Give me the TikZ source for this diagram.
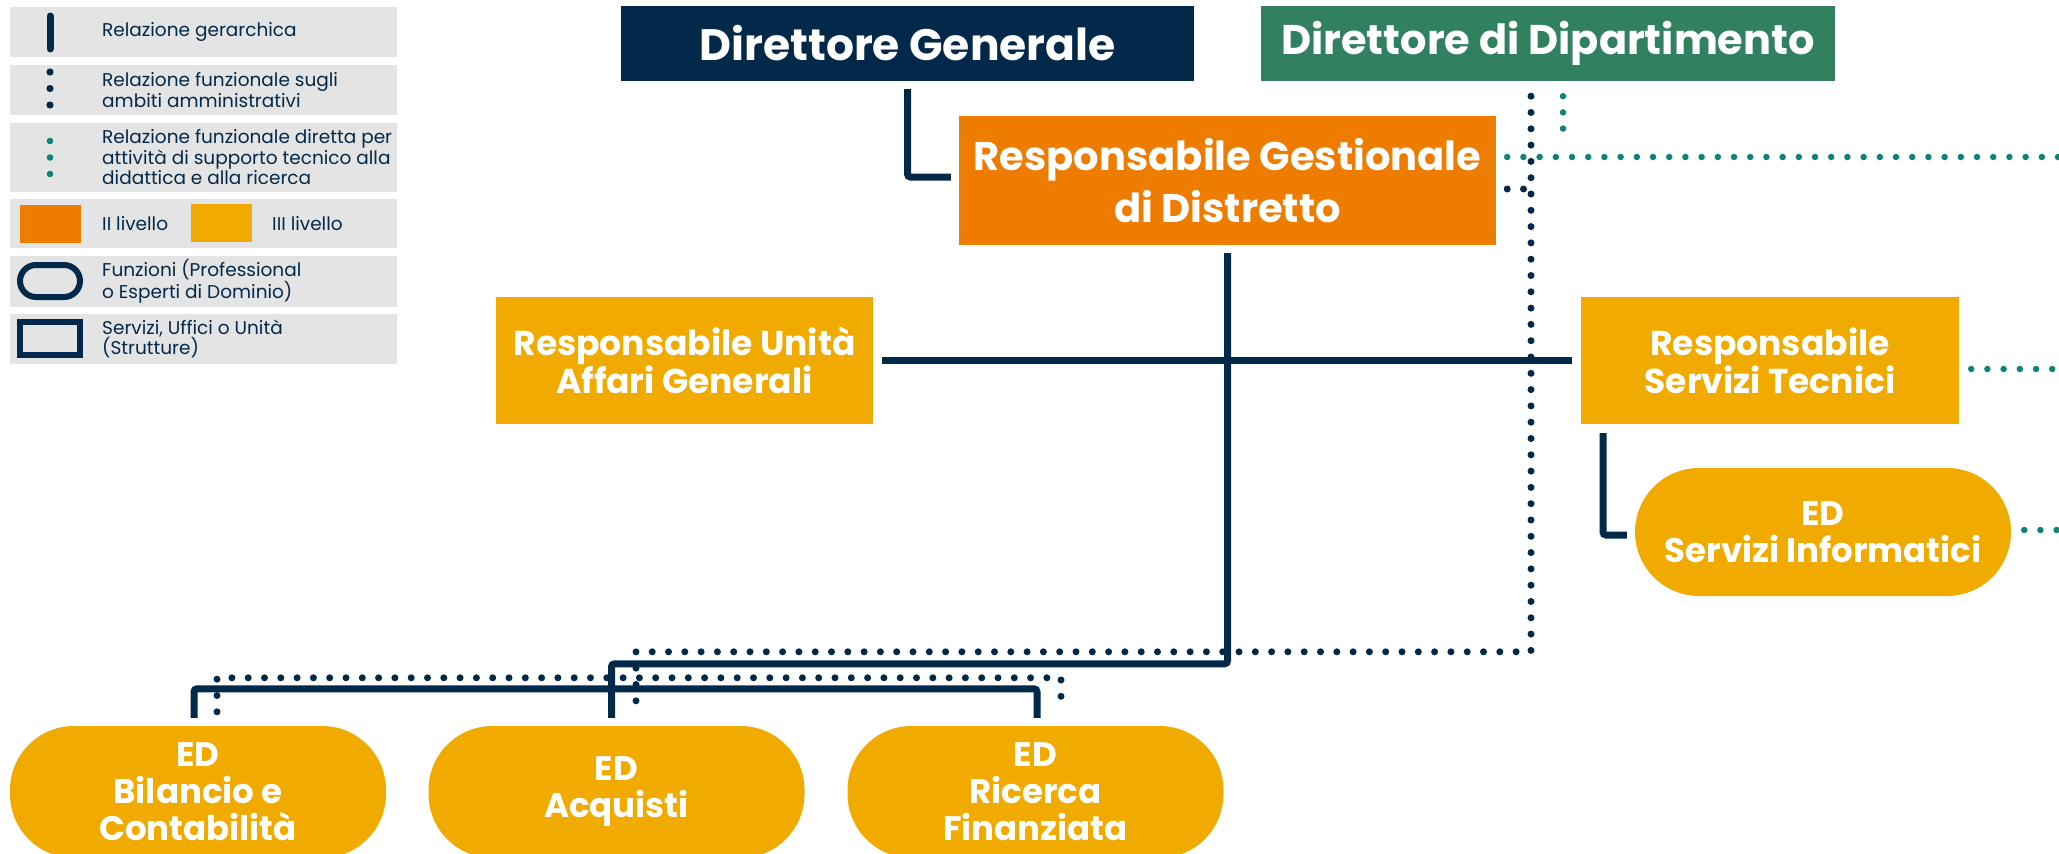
\documentclass[tikz,border=0pt]{standalone}
\usepackage{fontspec}
\setmainfont{Poppins}
\usetikzlibrary{calc}
\definecolor{navy}{HTML}{03294A}
\definecolor{dipgreen}{HTML}{31805F}
\definecolor{techteal}{HTML}{0E8574}
\definecolor{lvtwo}{HTML}{EE7C00}
\definecolor{lvthree}{HTML}{F1AB00}
\definecolor{legbg}{HTML}{E4E4E4}
\begin{document}
\begin{tikzpicture}[x=1pt,y=-1pt,
  box/.style={rectangle, inner sep=0pt, text=white, align=center, font=\bfseries},
  stadium/.style={box, rounded corners=64pt, fill=lvthree, minimum width=376pt},
  hier/.style={draw=navy, line width=7pt, rounded corners=3pt},
  adm/.style={draw=navy, line width=7pt, line cap=round, dash pattern=on 0pt off 16.3pt},
  tech/.style={draw=techteal, line width=6.5pt, line cap=round, dash pattern=on 0pt off 16.2pt},
  legtext/.style={anchor=west, inner sep=0pt, text=navy, align=left, font=\fontsize{18.5}{20.5}\selectfont},
  dgtitle/.style={font=\bfseries\fontsize{44}{50}\selectfont},
  ddtitle/.style={font=\bfseries\fontsize{41.5}{48}\selectfont},
  midtitle/.style={font=\bfseries\fontsize{40}{52}\selectfont},
  smalltitle/.style={font=\bfseries\fontsize{34.5}{38}\selectfont},
  edtitle/.style={font=\bfseries\fontsize{34}{37}\selectfont}
]
\useasboundingbox (0,0) rectangle (2059,854);
\clip (0,0) rectangle (2059,854);

% ---------- legend ----------
\fill[legbg] (10,7) rectangle (397,57);
\fill[legbg] (10,65) rectangle (397,115);
\fill[legbg] (10,123) rectangle (397,192);
\fill[legbg] (10,199) rectangle (397,248);
\fill[legbg] (10,256) rectangle (397,307);
\fill[legbg] (10,314) rectangle (397,364);

\draw[navy, line width=7pt, line cap=round] (50,16) -- (50,49);
\foreach \yy in {72,88.5,105} \fill[navy] (50,\yy) circle (3.6pt);
\foreach \yy in {141,157.5,174} \fill[techteal] (50,\yy) circle (3.3pt);
\fill[lvtwo] (20,205) rectangle (81,243);
\fill[lvthree] (191,204) rectangle (252,242);
\draw[navy, line width=6pt, rounded corners=16pt] (20,265) rectangle (80,297);
\draw[navy, line width=6pt] (20,322) rectangle (80,355);

\node[legtext] (lg1) at (102,32) {Relazione gerarchica};
\node[legtext] (lg2) at (102,90) {Relazione funzionale sugli\\ambiti amministrativi};
\node[legtext] (lg3) at (102,157.5) {Relazione funzionale diretta per\\attività di supporto tecnico alla\\didattica e alla ricerca};
\node[legtext] (lg4) at (102,223.5) {II livello};
\node[legtext] (lg5) at (272,223.5) {III livello};
\node[legtext] (lg6) at (102,281.5) {Funzioni (Professional\\o Esperti di Dominio)};
\node[legtext] (lg7) at (102,339) {Servizi, Uffici o Unità\\(Strutture)};

% ---------- nodes ----------
\node[box, dgtitle, fill=navy, minimum width=573pt, minimum height=75pt] (DG) at (907.5,43.5) {Direttore Generale};
\node[box, ddtitle, fill=dipgreen, minimum width=574pt, minimum height=75pt] (DdD) at (1548,43.5) {Direttore di Dipartimento};
\node[box, midtitle, fill=lvtwo, minimum width=537pt, minimum height=129pt] (RGD) at (1227.5,180.5) {Responsabile Gestionale\\di Distretto};
\node[box, smalltitle, fill=lvthree, minimum width=377pt, minimum height=127pt] (RUAG) at (684.5,360.5) {Responsabile Unità\\Affari Generali};
\node[box, smalltitle, fill=lvthree, minimum width=378pt, minimum height=127pt] (RST) at (1770,360.5) {Responsabile\\Servizi Tecnici};
\node[stadium, edtitle, minimum height=128pt] (EDSI) at (1823,532) {ED\\Servizi Informatici};
\node[stadium, edtitle, minimum height=132pt] (EDBil) at (198,792) {ED\\Bilancio e\\Contabilità};
\node[stadium, edtitle, minimum height=132pt] (EDAcq) at (616.5,792) {ED\\Acquisti};
\node[stadium, edtitle, minimum height=132pt] (EDRic) at (1035.5,792) {ED\\Ricerca\\Finanziata};

% ---------- hierarchical connectors ----------
\draw[hier] ($(DG.south)+(0,8)$) |- ($(RGD.west)+(-8,-3.5)$);
\draw[hier] ($(RGD.south)+(0,8)$) |- ($(EDAcq.north)+(-5,-62)$) -- ($(EDAcq.north)+(-5,-8)$);
\draw[hier] ($(RUAG.east)+(9,0)$) -- ($(RST.west)+(-9,0)$);
\draw[hier] ($(EDBil.north)+(-4,-8)$) |- ($(EDAcq.north)+(0,-37)$) -| ($(EDRic.north)+(1.5,-8)$);
\draw[hier] ($(RST.south)+(-167,9)$) |- ($(EDSI.west)+(-8,3)$);

% ---------- administrative functional (navy dotted) ----------
\coordinate (vtop) at ($(DdD.south)+(-17,15)$);
\coordinate (vbot) at ($(vtop |- EDAcq.north)+(0,-74)$);
\coordinate (acqd) at ($(EDAcq.north)+(19.5,-74)$);
\draw[adm] (vtop) -- (vbot) -- (acqd) -- ($(EDAcq.north)+(19.5,-10)$);
\draw[adm] ($(RGD.east)+(11,8.5)$) -- ($(RGD.east -| vtop)+(0,8.5)$);
\draw[adm] ($(EDBil.north)+(19,-14)$) -- ($(EDBil.north)+(19,-48)$) -- ($(EDRic.north)+(25.5,-48)$) -- ($(EDRic.north)+(25.5,-14)$);

% ---------- technical functional (teal dotted) ----------
\coordinate (te1) at ($(RGD.east)+(700,-23.5)$);
\coordinate (te2) at ($(RST.east)+(300,8.5)$);
\coordinate (te3) at ($(EDSI.east)+(200,-2)$);
\draw[tech] ($(DdD.south)+(15,15)$) -- ($(DdD.south)+(15,49)$);
\draw[tech] ($(RGD.east)+(11,-23.5)$) -- (te1);
\draw[tech] ($(RST.east)+(12,8.5)$) -- (te2);
\draw[tech] ($(EDSI.east)+(13,-2)$) -- (te3);
\end{tikzpicture}
\end{document}
